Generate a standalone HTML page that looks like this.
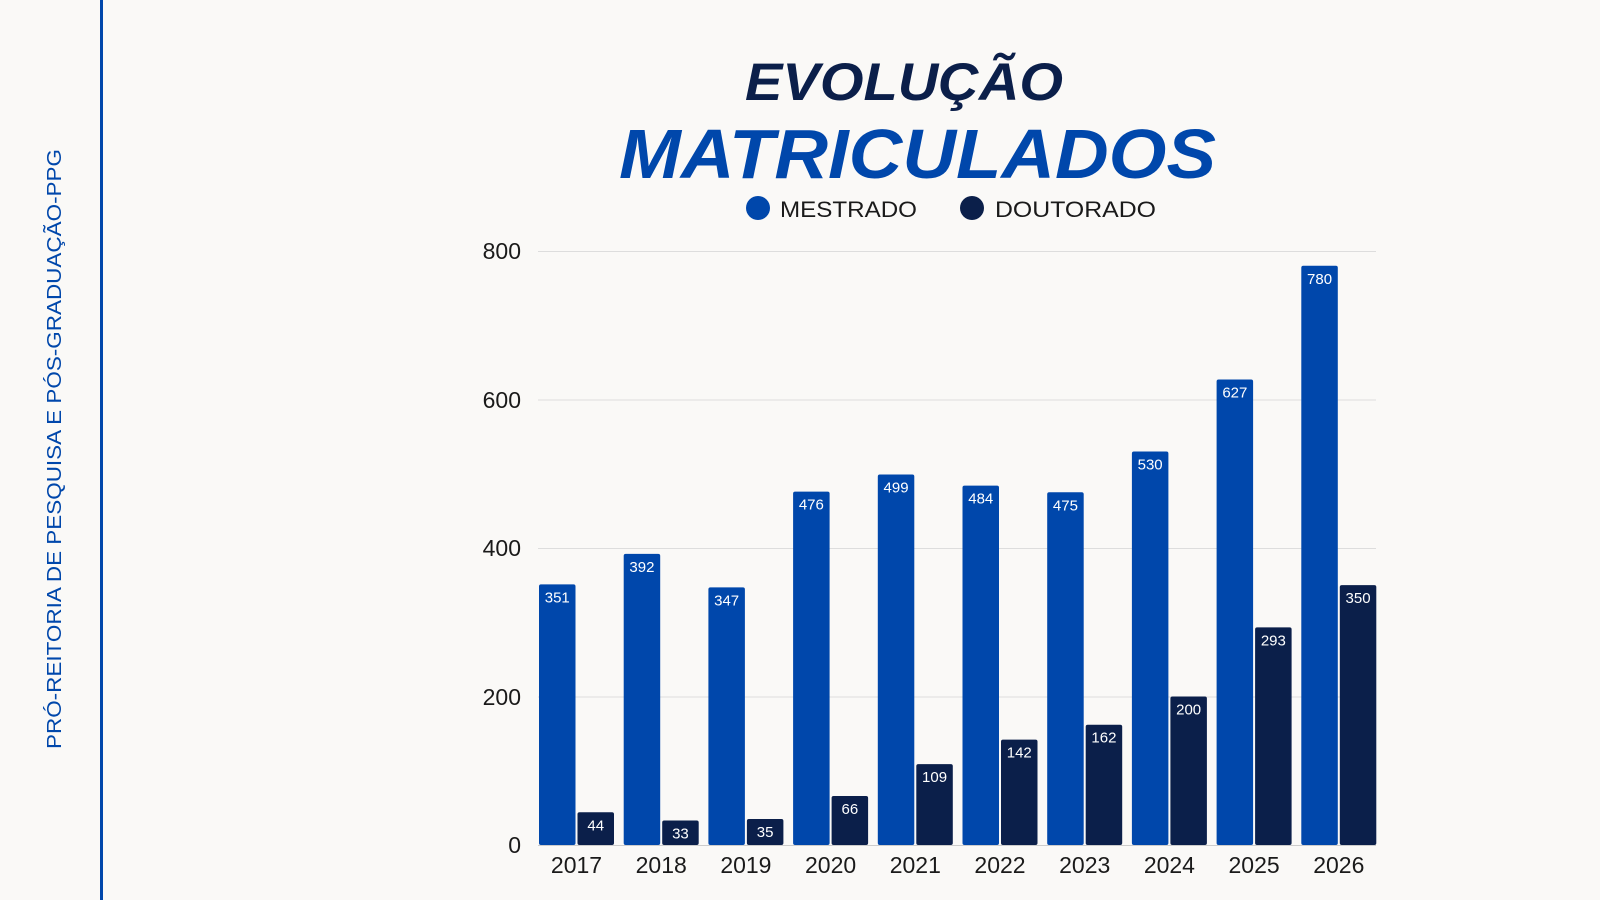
<!DOCTYPE html>
<html><head><meta charset="utf-8"><style>
html,body{margin:0;padding:0;background:#faf9f7;}
svg{display:block;font-family:"Liberation Sans",sans-serif;}
</style></head><body>
<svg width="1600" height="900" viewBox="0 0 1600 900" xmlns="http://www.w3.org/2000/svg">
<rect width="1600" height="900" fill="#faf9f7"/>
<rect x="100" y="0" width="3" height="900" fill="#0047ab"/>
<text transform="translate(61,449) rotate(-90)" text-anchor="middle" font-size="20" fill="#0047ab" textLength="600" lengthAdjust="spacingAndGlyphs">PRÓ-REITORIA DE PESQUISA E PÓS-GRADUAÇÃO-PPG</text>
<text x="745" y="100" font-size="53" font-weight="bold" font-style="italic" fill="#0b1f4a" textLength="318" lengthAdjust="spacingAndGlyphs">EVOLUÇÃO</text>
<text x="619" y="178" font-size="70" font-weight="bold" font-style="italic" fill="#0047ab" textLength="597" lengthAdjust="spacingAndGlyphs">MATRICULADOS</text>
<circle cx="758" cy="208" r="12" fill="#0047ab"/>
<text x="780" y="217" font-size="22" fill="#1a1a1a" textLength="137" lengthAdjust="spacingAndGlyphs">MESTRADO</text>
<circle cx="972" cy="208" r="12" fill="#0b1f4a"/>
<text x="995" y="217" font-size="22" fill="#1a1a1a" textLength="161" lengthAdjust="spacingAndGlyphs">DOUTORADO</text>
<g stroke="#dddddd" stroke-width="1">
<line x1="538" x2="1376" y1="251.5" y2="251.5"/>
<line x1="538" x2="1376" y1="400" y2="400"/>
<line x1="538" x2="1376" y1="548.5" y2="548.5"/>
<line x1="538" x2="1376" y1="697" y2="697"/>
</g>
<g font-size="23" fill="#1a1a1a" text-anchor="end">
<text x="521" y="259">800</text>
<text x="521" y="408">600</text>
<text x="521" y="556">400</text>
<text x="521" y="705">200</text>
<text x="521" y="853">0</text>
</g>
<g fill="#0047ab">
<rect x="539" y="584.4" width="36.5" height="260.6" rx="2"/>
<rect x="623.7" y="553.9" width="36.5" height="291.1" rx="2"/>
<rect x="708.4" y="587.4" width="36.5" height="257.6" rx="2"/>
<rect x="793.1" y="491.6" width="36.5" height="353.4" rx="2"/>
<rect x="877.8" y="474.5" width="36.5" height="370.5" rx="2"/>
<rect x="962.5" y="485.6" width="36.5" height="359.4" rx="2"/>
<rect x="1047.2" y="492.3" width="36.5" height="352.7" rx="2"/>
<rect x="1131.9" y="451.5" width="36.5" height="393.5" rx="2"/>
<rect x="1216.6" y="379.5" width="36.5" height="465.5" rx="2"/>
<rect x="1301.3" y="265.8" width="36.5" height="579.2" rx="2"/>
</g>
<g fill="#0b1f4a">
<rect x="577.5" y="812.3" width="36.5" height="32.7" rx="2"/>
<rect x="662.2" y="820.5" width="36.5" height="24.5" rx="2"/>
<rect x="746.9" y="819" width="36.5" height="26" rx="2"/>
<rect x="831.6" y="796" width="36.5" height="49" rx="2"/>
<rect x="916.3" y="764.1" width="36.5" height="80.9" rx="2"/>
<rect x="1001" y="739.6" width="36.5" height="105.4" rx="2"/>
<rect x="1085.7" y="724.7" width="36.5" height="120.3" rx="2"/>
<rect x="1170.4" y="696.5" width="36.5" height="148.5" rx="2"/>
<rect x="1255.1" y="627.4" width="36.5" height="217.6" rx="2"/>
<rect x="1339.8" y="585.1" width="36.5" height="259.9" rx="2"/>
</g>
<g font-size="15" fill="#ffffff" text-anchor="middle">
<text x="557.25" y="602.4">351</text>
<text x="641.95" y="571.9">392</text>
<text x="726.65" y="605.4">347</text>
<text x="811.35" y="509.6">476</text>
<text x="896.05" y="492.5">499</text>
<text x="980.75" y="503.6">484</text>
<text x="1065.45" y="510.3">475</text>
<text x="1150.15" y="469.5">530</text>
<text x="1234.85" y="397.5">627</text>
<text x="1319.55" y="283.8">780</text>
<text x="595.75" y="830.3">44</text>
<text x="680.45" y="838.5">33</text>
<text x="765.15" y="837">35</text>
<text x="849.85" y="814">66</text>
<text x="934.55" y="782.1">109</text>
<text x="1019.25" y="757.6">142</text>
<text x="1103.95" y="742.7">162</text>
<text x="1188.65" y="714.5">200</text>
<text x="1273.35" y="645.4">293</text>
<text x="1358.05" y="603.1">350</text>
</g>
<line x1="538" x2="1376" y1="845.5" y2="845.5" stroke="#cccccc"/>
<g font-size="23" fill="#1a1a1a" text-anchor="middle">
<text x="576.5" y="873">2017</text>
<text x="661.2" y="873">2018</text>
<text x="745.9" y="873">2019</text>
<text x="830.6" y="873">2020</text>
<text x="915.3" y="873">2021</text>
<text x="1000" y="873">2022</text>
<text x="1084.7" y="873">2023</text>
<text x="1169.4" y="873">2024</text>
<text x="1254.1" y="873">2025</text>
<text x="1338.8" y="873">2026</text>
</g>
</svg>
</body></html>
